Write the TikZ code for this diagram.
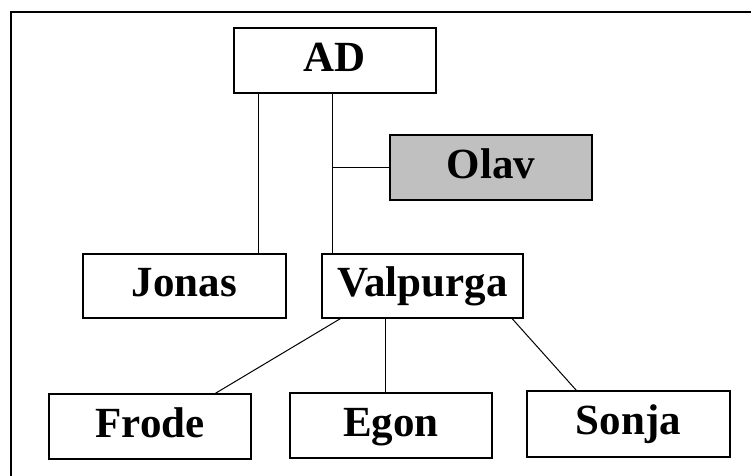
\documentclass[tikz,border=0pt]{standalone}
\usepackage{fontspec}
\setmainfont{Liberation Serif}
\definecolor{olavgray}{HTML}{C0C0C0}
\begin{document}
\begin{tikzpicture}[x=1pt,y=-1pt,
  box/.style={draw=black,line width=1.3pt,fill=white,minimum width=202pt,minimum height=65pt,inner sep=0pt,
    text height=30pt,text depth=9pt,
    font=\fontsize{43}{50}\selectfont\bfseries},
  conn/.style={draw=black,line width=1pt}]
\useasboundingbox (0,0) rectangle (751,475);
\begin{scope}
\clip (0,0) rectangle (751,475);
\draw[line width=1.6pt] (11,12) rectangle (770,490);
\end{scope}
\node[box] (AD) at (335,60.5) {AD};
\node[box,fill=olavgray] (Olav) at (491,167.5) {Olav};
\node[box,minimum width=203pt,minimum height=64pt] (Jonas) at (184.5,286) {Jonas};
\node[box,minimum width=201pt,minimum height=64pt] (Valpurga) at (422.5,286) {Valpurga};
\node[box] (Frode) at (150,426.5) {Frode};
\node[box] (Egon) at (391,425.5) {Egon};
\node[box,minimum width=203pt,minimum height=66pt] (Sonja) at (628.5,424) {Sonja};
\coordinate (j1) at ([xshift=25pt]AD.south west);
\coordinate (v1) at ([xshift=-3pt]AD.south);
\draw[conn] (j1) -- (j1 |- Jonas.north);
\draw[conn] (v1) -- (v1 |- Valpurga.north);
\draw[conn] (v1 |- Olav.west) -- (Olav.west);
\draw[conn] ([xshift=19pt]Valpurga.south west) -- ([xshift=167pt]Frode.north west);
\coordinate (e1) at ([xshift=-6pt]Egon.north);
\draw[conn] (e1 |- Valpurga.south) -- (e1);
\draw[conn] ([xshift=-11.5pt]Valpurga.south east) -- ([xshift=50pt]Sonja.north west);
\end{tikzpicture}
\end{document}
